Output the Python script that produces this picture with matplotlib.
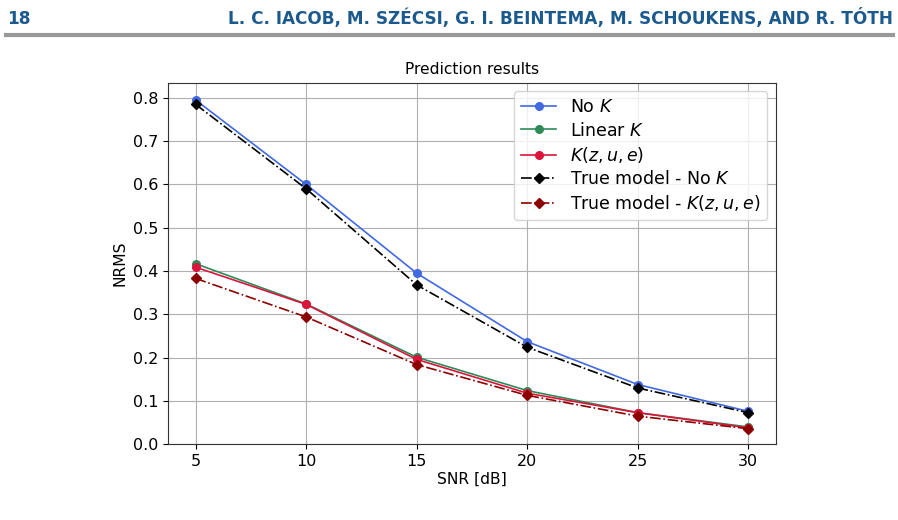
import matplotlib
matplotlib.use('Agg')
import matplotlib.pyplot as plt
from matplotlib.lines import Line2D

# SNR levels and NRMS values
snr = [5, 10, 15, 20, 25, 30]
no_k = [0.795, 0.600, 0.395, 0.237, 0.138, 0.076]
linear_k = [0.417, 0.324, 0.201, 0.124, 0.073, 0.040]
k_zue = [0.409, 0.323, 0.196, 0.118, 0.073, 0.038]
true_no_k = [0.785, 0.590, 0.368, 0.224, 0.130, 0.073]
true_k_zue = [0.383, 0.294, 0.184, 0.113, 0.065, 0.036]

header_num = '18'
header_txt = 'L. C. IACOB, M. SZÉCSI, G. I. BEINTEMA, M. SCHOUKENS, AND R. TÓTH'

fig = plt.figure(figsize=(8.98, 5.2), dpi=100)
ax = fig.add_axes([168/898, 1 - 444.3/520, (776-168)/898, (444.3-82.7)/520])

ax.plot(snr, no_k, '-o', color='royalblue', ms=5.5, lw=1.2, label='No $K$')
ax.plot(snr, linear_k, '-o', color='seagreen', ms=5.5, lw=1.2, label='Linear $K$')
ax.plot(snr, k_zue, '-o', color='crimson', ms=5.5, lw=1.2, label='$K(z,u,e)$')
ax.plot(snr, true_no_k, '-.D', color='black', ms=5.5, lw=1.2, label='True model - No $K$')
ax.plot(snr, true_k_zue, '-.D', color='darkred', ms=5.5, lw=1.2,
        label='True model - $K(z,u,e)$')

ax.set_ylim(0, 0.835)
ax.set_xlim(3.75, 31.25)
ax.grid(True, color='#b0b0b0', lw=0.8)
for s in ax.spines.values():
    s.set_color('#333333')
ax.set_title('Prediction results', fontsize=11.2)
ax.set_xlabel('SNR [dB]', fontsize=11.2, labelpad=2)
ax.set_ylabel('NRMS', fontsize=11.2)
ax.tick_params(labelsize=11.5)
ax.legend(loc='upper right', fontsize=12.5, handlelength=2.0, labelspacing=0.3)

# page header
fig.text(7/898, 1 - 24/520, header_num, color='#1c5a8e', fontsize=12.2,
         fontweight='bold', family='Liberation Sans Narrow')
fig.text(893/898, 1 - 24/520, header_txt, color='#1c5a8e', fontsize=12.2,
         fontweight='bold', family='Liberation Sans Narrow', ha='right')
fig.add_artist(Line2D([6/898, 893/898], [1 - 35/520, 1 - 35/520],
                      color='#999999', lw=3, transform=fig.transFigure))

fig.savefig('out.png', dpi=100)
